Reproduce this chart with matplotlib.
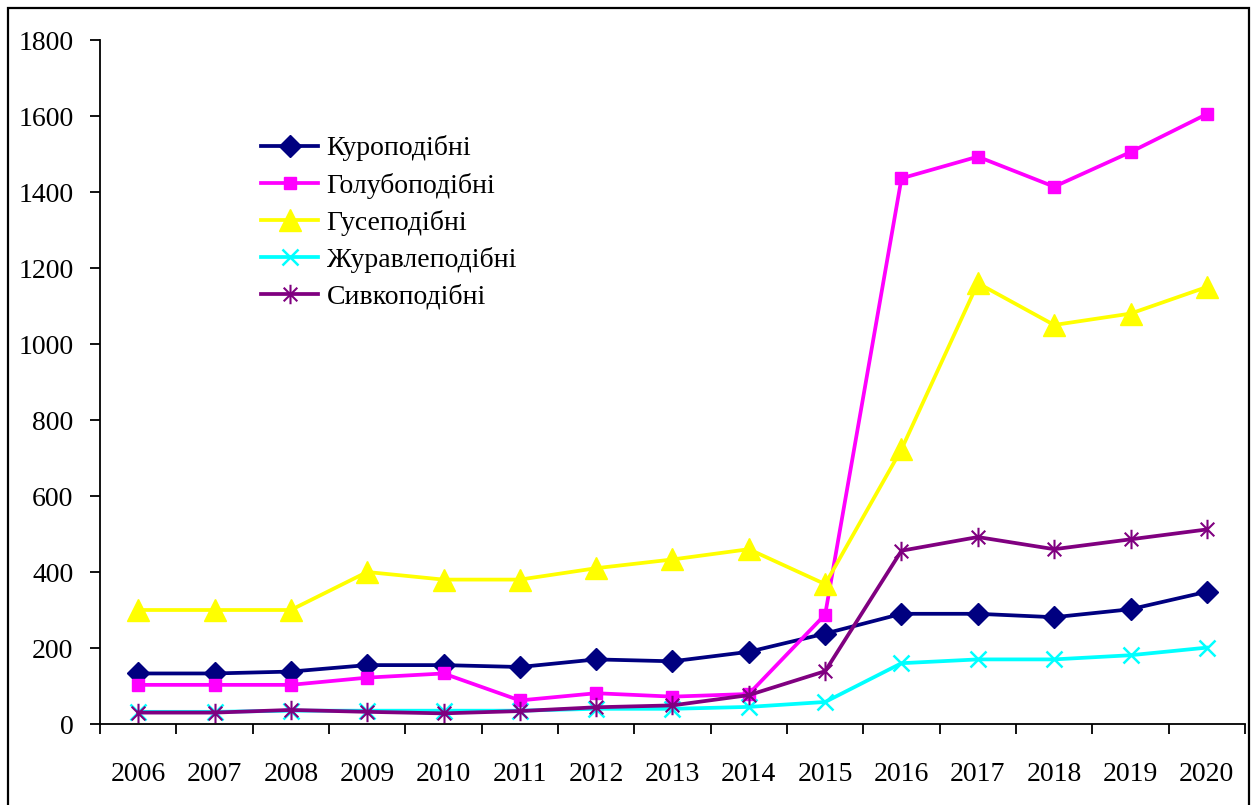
import numpy as np
import matplotlib
matplotlib.use('Agg')
import matplotlib.pyplot as plt
from matplotlib.path import Path
from matplotlib.patches import Rectangle

# data
years = ['2006', '2007', '2008', '2009', '2010', '2011', '2012', '2013',
         '2014', '2015', '2016', '2017', '2018', '2019', '2020']
kuro = [133, 133, 138, 155, 155, 150, 170, 165, 190, 238, 290, 290, 281, 302, 348]
holub = [103, 103, 103, 122, 133, 62, 81, 72, 79, 288, 1436, 1493, 1414, 1505, 1605]
huse = [300, 300, 300, 400, 380, 380, 410, 433, 460, 368, 723, 1160, 1050, 1080, 1150]
zhurav = [32, 32, 35, 35, 35, 35, 40, 40, 45, 58, 160, 170, 170, 181, 201]
syvko = [30, 30, 37, 32, 28, 34, 44, 49, 76, 139, 456, 492, 460, 486, 512]

names = ['Куроподібні', 'Голубоподібні', 'Гусеподібні', 'Журавлеподібні', 'Сивкоподібні']


def asterisk():
    '''Excel style star marker: vertical line plus a diagonal cross'''
    verts = [(0, -1), (0, 1), (-0.7, -0.7), (0.7, 0.7), (-0.7, 0.7), (0.7, -0.7)]
    codes = [Path.MOVETO, Path.LINETO] * 3
    return Path(verts, codes)


def main():
    plt.rcParams['font.family'] = ['Liberation Serif', 'DejaVu Serif']
    fig = plt.figure(figsize=(12.51, 8.05), dpi=100)
    ax = fig.add_axes([100 / 1251, 1 - 724 / 805, 1145 / 1251, 684 / 805])

    x = np.arange(len(years))
    ax.plot(x, kuro, color='#000080', lw=2.7, marker='D', ms=11.5, label=names[0])
    ax.plot(x, holub, color='#FF00FF', lw=2.7, marker='s', ms=9, label=names[1])
    ax.plot(x, huse, color='#FFFF00', lw=2.7, marker='^', ms=16, label=names[2])
    ax.plot(x, zhurav, color='#00FFFF', lw=2.7, marker='x', ms=12, mew=1.8, label=names[3])
    ax.plot(x, syvko, color='#800080', lw=2.7, marker=asterisk(), ms=14, mew=1.5,
            label=names[4])

    ax.set_xlim(-0.5, len(years) - 0.5)
    ax.set_ylim(0, 1800)
    ax.set_yticks(np.arange(0, 1801, 200))
    ax.set_xticks(np.arange(-0.5, len(years)), [''] * (len(years) + 1))
    ax.set_xticks(x, years, minor=True)
    ax.tick_params(axis='x', which='major', direction='out', length=7, width=1.3)
    ax.tick_params(axis='x', which='minor', length=0, pad=27, labelsize=20)
    ax.tick_params(axis='y', direction='out', length=7, width=1.3, pad=12, labelsize=20)

    ax.spines['top'].set_visible(False)
    ax.spines['right'].set_visible(False)
    ax.spines['left'].set_linewidth(1.3)
    ax.spines['bottom'].set_linewidth(1.3)

    ax.legend(loc='upper left', bbox_to_anchor=(0.119, 0.897), frameon=False,
              fontsize=20, handlelength=2.05, handletextpad=0.3, labelspacing=0.4)

    # outer chart border
    fig.patches.append(Rectangle((8 / 1251, -0.05), 1241 / 1251, 1 - 8 / 805 + 0.05,
                                 transform=fig.transFigure, fill=False,
                                 edgecolor='black', lw=1.6))

    fig.savefig('out.png', dpi=100)


if __name__ == '__main__':
    main()
